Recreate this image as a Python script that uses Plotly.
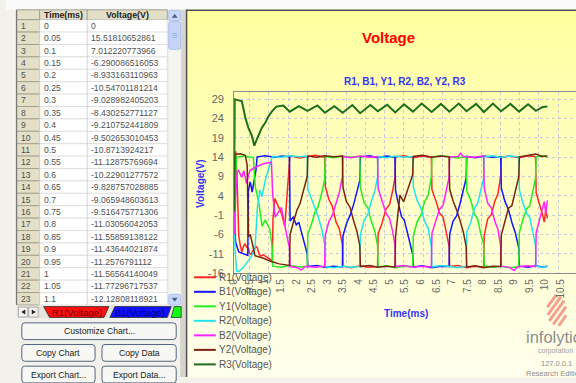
import plotly.graph_objects as go

W, H = 576, 383
FONT = "Liberation Sans, Arial, sans-serif"

# ---------------- data ----------------
table_time = [0, 0.05, 0.1, 0.15, 0.2, 0.25, 0.3, 0.35, 0.4, 0.45, 0.5, 0.55,
              0.6, 0.65, 0.7, 0.75, 0.8, 0.85, 0.9, 0.95, 1, 1.05, 1.1]
table_r1 = [0, 15.51810652861, 7.012220773966, -6.290086516053, -8.933163110963,
            -10.54701181214, -9.028982405203, -8.430252771127, -9.210752441809,
            -9.502653010453, -10.8713924217, -11.12875769694, -10.22901277572,
            -9.828757028885, -9.065948603613, -9.516475771306, -11.03056042053,
            -11.55859138122, -11.43644021874, -11.2576791112, -11.56564140049,
            -11.77296717537, -12.12808118921]

r1_tail_t = [1.15, 1.2, 1.23, 1.25, 1.31, 1.42, 1.52, 1.63, 1.70, 1.76, 1.79, 1.85, 2.1, 2.36, 2.6, 2.91,
             2.93, 3.05, 3.15, 3.28, 3.38, 3.48, 3.50, 3.75, 4.05, 4.3, 4.61, 4.63, 4.75, 4.88, 5.0, 5.10,
             5.17, 5.19, 5.45, 5.75, 6.05, 6.34, 6.36, 6.48, 6.6, 6.72, 6.82, 6.91, 6.93, 7.2, 7.47, 7.75,
             8.02, 8.04, 8.15, 8.27, 8.38, 8.48, 8.57, 8.59, 8.85, 9.16, 9.45, 9.69, 9.71, 9.82, 9.92, 9.97,
             10.02, 10.07]
r1_tail_v = [-12.3, -12.6, -12.8, -2.0, 3.3, 1.2, -0.5, -3.9, 4.0, 9.0, 14.0, 14.3, 13.8, 14.2, 14.5, 14.0,
             6.5, 3.0, 1.5, -2.8, -4.5, -8.5, -14.2, -14.6, -14.1, -14.5, -14.3, -5.8, -3.2, 0.5, 1.8, 5.5,
             8.6, 14.1, 14.4, 13.9, 14.3, 14.0, 5.6, 2.9, -0.4, -1.5, -5.7, -9.0, -14.3, -14.0, -14.6, -14.2,
             -14.4, -6.2, -2.0, -0.8, 2.6, 4.5, 9.2, 14.0, 14.3, 13.9, 14.4, 14.1, 4.8, 2.0, -1.0, -2.8,
             0.4, -1.8]

b1_t = [0, 0.05, 0.15, 0.3, 0.44, 0.46, 0.52, 0.58, 0.66, 0.70, 0.74, 1.0, 1.3, 1.55, 1.78, 1.80, 1.9, 2.0,
        2.08, 2.18, 2.28, 2.35, 2.37, 2.65, 2.92, 3.2, 3.48, 3.50, 3.62, 3.74, 3.85, 3.95, 4.04, 4.06, 4.35,
        4.62, 4.9, 5.17, 5.19, 5.28, 5.38, 5.47, 5.6, 5.74, 5.76, 6.05, 6.35, 6.65, 6.91, 6.93, 7.04, 7.15,
        7.26, 7.37, 7.46, 7.48, 7.75, 8.03, 8.3, 8.57, 8.59, 8.7, 8.82, 8.93, 9.04, 9.15, 9.17, 9.45, 9.7,
        9.9, 10.07]
b1_v = [0, -8.0, -10.5, -11.0, -11.4, 5.5, 7.6, 5.0, 9.2, 10.5, 14.1, 14.4, 14.0, 14.3, 14.1, -2.5, -1.5, -3.5,
        -2.8, -6.0, -8.5, -11.0, -14.3, -14.0, -14.5, -14.2, -14.4, -6.3, -3.0, -0.8, 2.0, 4.9, 8.0, 14.1, 14.4,
        13.9, 14.3, 14.0, 5.4, 2.0, -1.4, -2.2, -6.5, -11.1, -14.4, -14.1, -14.6, -14.2, -14.3, -5.9, -2.5, -1.2,
        1.9, 5.3, 8.6, 14.2, 13.9, 14.3, 14.0, 14.2, 6.0, 2.7, 0.4, -2.9, -5.6, -9.4, -14.2, -14.5, -14.1,
        -14.4, -14.2]

y1_t = [0, 0.04, 0.08, 0.3, 0.5, 0.62, 0.66, 0.69, 0.8, 0.9, 1.0, 1.15, 1.22, 1.24, 1.5, 1.79, 2.1, 2.35,
        2.37, 2.48, 2.6, 2.7, 2.82, 2.91, 2.93, 3.2, 3.49, 3.75, 4.04, 4.06, 4.18, 4.3, 4.41, 4.52, 4.61, 4.63,
        4.9, 5.18, 5.45, 5.74, 5.76, 5.88, 6.0, 6.12, 6.24, 6.34, 6.36, 6.62, 6.92, 7.2, 7.46, 7.48, 7.6, 7.72,
        7.83, 7.93, 8.02, 8.04, 8.3, 8.58, 8.88, 9.15, 9.17, 9.28, 9.4, 9.5, 9.6, 9.69, 9.71, 9.9, 10.07]
y1_v = [0, 9.0, 14.0, 14.3, 14.1, 13.9, 8.8, 6.0, 2.0, -3.9, -2.2, -4.7, -9.0, -14.2, -14.5, -14.0, -14.4, -14.3,
        -5.9, -3.5, -0.2, 1.2, 4.8, 8.2, 14.2, 13.9, 14.3, 14.0, 14.2, 6.1, 2.2, 0.9, -2.6, -5.0, -8.8, -14.4,
        -14.1, -14.6, -14.2, -14.3, -6.4, -2.8, -1.0, 2.4, 4.2, 9.0, 14.0, 14.4, 14.1, 13.8, 14.2, 5.2, 3.1, -0.6,
        -2.0, -5.9, -8.4, -14.1, -14.5, -14.2, -14.6, -14.3, -5.5, -2.2, 0.6, 1.4, 5.1, 8.7, 14.1, 14.4, 14.0]

r2_t = [0, 0.03, 0.08, 0.15, 0.3, 0.45, 0.56, 0.67, 0.70, 0.75, 0.83, 0.9, 1.0, 1.1, 1.18, 1.23, 1.5, 1.79,
        2.1, 2.35, 2.37, 2.48, 2.6, 2.71, 2.82, 2.91, 2.93, 3.2, 3.49, 3.75, 4.04, 4.06, 4.18, 4.3, 4.41, 4.52,
        4.61, 4.63, 4.9, 5.18, 5.45, 5.74, 5.76, 5.88, 6.0, 6.12, 6.24, 6.34, 6.36, 6.62, 6.92, 7.2, 7.46, 7.48,
        7.6, 7.72, 7.83, 7.93, 8.02, 8.04, 8.3, 8.58, 8.88, 9.15, 9.17, 9.28, 9.4, 9.5, 9.6, 9.69, 9.71, 9.9,
        10.07]
r2_v = [0, -10.0, -15.4, -15.6, -14.5, -13.0, -11.6, -9.8, -4.0, 1.0, 5.5, 3.8, 8.0, 11.0, 13.1, 14.2, 14.0, 14.4,
        14.1, 14.3, 5.8, 3.4, 0.4, -1.6, -4.7, -8.6, -14.3, -14.6, -14.2, -14.5, -14.3, -6.0, -2.3, -0.7, 2.6, 5.1,
        8.8, 14.2, 13.9, 14.3, 14.0, 14.2, 6.3, 2.9, 0.9, -2.5, -4.4, -9.1, -14.4, -14.0, -14.3, -14.6, -14.2, -5.3,
        -3.0, 0.7, 2.1, 5.8, 8.5, 14.1, 14.4, 14.0, 14.3, 14.1, 5.6, 2.3, -0.5, -1.5, -5.0, -8.8, -14.2, -14.5,
        -14.3]

b2_t = [0, 0.02, 0.05, 0.1, 0.14, 0.2, 0.25, 0.31, 0.36, 0.4, 0.46, 0.52, 0.68, 0.94, 1.2, 1.24, 1.32, 1.42,
        1.52, 1.6, 1.7, 1.78, 1.80, 2.05, 2.15, 2.3, 2.6, 2.91, 2.93, 3.05, 3.16, 3.28, 3.38, 3.48, 3.50, 3.75,
        4.05, 4.35, 4.61, 4.63, 4.75, 4.88, 5.0, 5.1, 5.17, 5.19, 5.45, 5.75, 6.05, 6.34, 6.36, 6.48, 6.6, 6.72,
        6.82, 6.91, 6.93, 7.2, 7.28, 7.36, 7.7, 8.02, 8.04, 8.15, 8.27, 8.38, 8.48, 8.57, 8.59, 8.85, 9.0, 9.1,
        9.4, 9.69, 9.71, 9.82, 9.92, 9.97, 10.02, 10.07]
b2_v = [0, -6.0, 4.0, 10.2, 10.6, 9.4, 8.8, 10.5, 9.0, 7.2, 9.5, 10.6, 11.4, 12.3, 12.7, 4.5, -1.5, -0.3,
        1.0, -2.5, -6.0, -9.5, -14.3, -14.6, -15.2, -14.2, -14.5, -14.2, -6.2, -2.6, -1.0, 2.4, 4.8, 8.9, 14.2,
        13.9, 14.3, 14.0, 14.2, 5.9, 3.1, -0.4, -1.9, -5.3, -8.7, -14.3, -14.0, -14.5, -14.2, -14.4, -5.7, -2.9,
        0.5, 1.6, 5.4, 8.8, 14.1, 14.2, 15.0, 14.2, 14.0, 14.3, 6.1, 2.1, 0.9, -2.6, -4.6, -9.0, -14.2, -14.5,
        -15.3, -14.4, -14.1, -14.3, -5.5, -2.0, 1.0, 2.5, -0.6, 2.8]

y2_t = [0, 0.02, 0.2, 0.36, 0.42, 0.46, 0.52, 0.56, 0.62, 0.67, 0.9, 1.2, 1.45, 1.78, 1.80, 1.92, 2.02, 2.12,
        2.24, 2.35, 2.37, 2.65, 2.92, 3.2, 3.48, 3.50, 3.61, 3.73, 3.84, 3.95, 4.04, 4.06, 4.35, 4.62, 4.9, 5.17,
        5.19, 5.26, 5.33, 5.45, 5.58, 5.74, 5.76, 6.05, 6.35, 6.65, 6.91, 6.93, 7.05, 7.16, 7.27, 7.37, 7.46,
        7.48, 7.75, 8.03, 8.3, 8.57, 8.59, 8.7, 8.82, 8.93, 9.05, 9.15, 9.17, 9.45, 9.7, 9.9, 10.07]
y2_v = [0, 14.8, 14.9, 14.5, 12.0, -6.5, -6.0, -7.2, -9.5, -11.5, -12.0, -13.0, -13.6, -14.0, -6.0, -2.4, 0.3,
        2.0, 5.4, 9.0, 14.3, 14.0, 14.4, 14.1, 14.3, 6.2, 2.5, 1.0, -2.4, -5.2, -8.9, -14.3, -14.0, -14.5, -14.2,
        -14.4, -6.5, -1.0, 4.2, 2.5, 5.8, 9.5, 14.2, 14.5, 14.0, 14.3, 14.1, 5.7, 2.4, 0.2, -2.6, -5.4, -9.1,
        -14.4, -14.1, -14.6, -14.2, -14.3, -6.1, -2.6, 0.8, 1.5, 5.8, 8.9, 14.1, 14.4, 14.8, 14.2, 14.4]

r3_t = [0, 0.02, 0.06, 0.25, 0.36, 0.46, 0.57, 0.65, 0.73, 0.89, 1.0, 1.12, 1.23, 1.36, 1.58, 1.79, 2.08, 2.36,
        2.68, 2.92, 3.22, 3.49, 3.80, 4.05, 4.38, 4.62, 4.92, 5.18, 5.46, 5.75, 6.03, 6.35, 6.65, 6.92, 7.22,
        7.47, 7.78, 8.03, 8.32, 8.58, 8.88, 9.16, 9.45, 9.70, 9.92, 10.07]
r3_v = [0, 29.0, 28.9, 28.5, 24.2, 21.6, 19.6, 17.0, 18.6, 21.6, 22.9, 24.8, 26.0, 27.1, 27.4, 25.8, 27.2, 26.0,
        27.4, 25.5, 27.2, 25.5, 27.5, 25.4, 27.5, 25.9, 27.6, 25.6, 27.7, 25.8, 27.9, 25.7, 27.8, 25.8, 27.9,
        25.9, 27.8, 25.7, 27.9, 25.9, 27.8, 25.8, 27.7, 26.0, 27.0, 27.1]

series_names = ["R1(Voltage)", "B1(Voltage)", "Y1(Voltage)", "R2(Voltage)",
                "B2(Voltage)", "Y2(Voltage)", "R3(Voltage)"]
series_colors = ["#FF2626", "#1414FF", "#22EE22", "#22E4EE", "#FF22FF", "#7A2410", "#1C6E1C"]
x_ticks = [0, 0.5, 1, 1.5, 2, 2.5, 3, 3.5, 4, 4.5, 5, 5.5, 6, 6.5, 7, 7.5, 8, 8.5, 9, 9.5, 10, 10.5]
y_ticks = [-16, -11, -6, -1, 4, 9, 14, 19, 24, 29]


def fmt(v):
    s = repr(float(v))
    return s[:-2] if s.endswith(".0") else s


def px(x):
    return x / W


def py(y):
    return 1 - y / H


series = [(table_time + r1_tail_t, table_r1 + r1_tail_v), (b1_t, b1_v), (y1_t, y1_v),
          (r2_t, r2_v), (b2_t, b2_v), (y2_t, y2_v), (r3_t, r3_v)]

fig = go.Figure()
for name, color, (t, v) in zip(series_names, series_colors, series):
    fig.add_trace(go.Scatter(x=t, y=v, mode="lines", name=name, showlegend=False,
                             line=dict(color=color, width=2.0 if name.startswith("R3") else 1.5)))

shapes = []
annotations = []


def rect(x0, y0, x1, y1, fill, line=None, lw=0, layer="below"):
    shapes.append(dict(type="rect", xref="paper", yref="paper", x0=px(x0), x1=px(x1),
                       y0=py(y1), y1=py(y0), fillcolor=fill,
                       line=dict(color=line or fill, width=lw), layer=layer))


def seg(x0, y0, x1, y1, color, lw=1, layer="below"):
    shapes.append(dict(type="line", xref="paper", yref="paper", x0=px(x0), x1=px(x1),
                       y0=py(y0), y1=py(y1), line=dict(color=color, width=lw), layer=layer))


def poly(points, fill, line=None, lw=0, layer="below"):
    d = "M " + " L ".join("%f,%f" % (px(a), py(b)) for a, b in points) + " Z"
    shapes.append(dict(type="path", xref="paper", yref="paper", path=d, fillcolor=fill,
                       line=dict(color=line or fill, width=lw), layer=layer))


def rrect(x0, y0, x1, y1, fill, line, r=3, lw=1):
    P = lambda a, b: "%f,%f" % (px(a), py(b))
    d = ("M " + P(x0 + r, y0) + " L " + P(x1 - r, y0) + " Q " + P(x1, y0) + " " + P(x1, y0 + r) +
         " L " + P(x1, y1 - r) + " Q " + P(x1, y1) + " " + P(x1 - r, y1) +
         " L " + P(x0 + r, y1) + " Q " + P(x0, y1) + " " + P(x0, y1 - r) +
         " L " + P(x0, y0 + r) + " Q " + P(x0, y0) + " " + P(x0 + r, y0) + " Z")
    shapes.append(dict(type="path", xref="paper", yref="paper", path=d, fillcolor=fill,
                       line=dict(color=line, width=lw), layer="below"))


def text(x, y, s, size=10, color="#333333", bold=False, xanchor="center", angle=0, family=FONT):
    annotations.append(dict(xref="paper", yref="paper", x=px(x), y=py(y),
                            text=("<b>%s</b>" % s) if bold else s, showarrow=False,
                            xanchor=xanchor, yanchor="middle", textangle=angle,
                            font=dict(size=size, color=color, family=family)))


# ---------- backgrounds ----------
rect(0, 0, 576, 10, "#FAFAFA")
rect(176, 10, 183, 383, "#D6D4CC")
n = 40
top, bot = (255, 255, 158), (255, 255, 238)
for i in range(n):
    y0 = 10 + (383 - 10) * i / n
    y1 = 10 + (383 - 10) * (i + 1) / n
    f = (i + 0.5) / n
    col = "rgb(%d,%d,%d)" % tuple(round(a + (b - a) * f) for a, b in zip(top, bot))
    rect(183, y0, 576, y1 + 0.6, col)
seg(182.5, 10, 182.5, 383, "#505050", 1.5)
seg(182, 10.5, 576, 10.5, "#505050", 1.5)

# ---------- data table ----------
c0, c1, c2, c3 = 11, 34, 82, 163
hy0, hy1 = 10, 20
rh = 12.6
rect(c0, hy0, c3, hy1, "#E4E0C8", "#8A8A80", 0.8)
nrows = len(table_time)
for i in range(nrows):
    ya = hy1 + rh * i
    yb = ya + rh
    rect(c0, ya, c1, yb, "#E4E0C8", "#9A9888", 0.8)
    rect(c1, ya, c3, yb, "#FFFFFF", "#D4D4D4", 0.6)
    yc = (ya + yb) / 2
    text(c0 + 2, yc, str(i + 1), size=8.6, color="#505050", xanchor="left")
    text(c1 + 2, yc, fmt(table_time[i]), size=8.6, color="#505050", xanchor="left")
    text(c2 + 2, yc, fmt(table_r1[i]), size=8.6, color="#505050", xanchor="left")
seg(c2, hy1, c2, hy1 + rh * nrows, "#C8C8C8", 0.8)
seg(c1, hy0, c1, hy1, "#8A8A80", 0.8)
seg(c2, hy0, c2, hy1, "#8A8A80", 0.8)
seg(10.5, hy0, 10.5, hy1 + rh * nrows, "#707070", 1)
text((c1 + c2) / 2, 15, "Time(ms)", size=8.8, color="#222222", bold=True)
text((c2 + c3) / 2, 15, "Voltage(V)", size=8.8, color="#222222", bold=True)

# scrollbar
rect(164, 10, 177, 311, "#F4F4F0", "#E2E2E2", 0.5)
rrect(164.5, 10.5, 176.5, 21, "#C9D8FA", "#AFC3EE", 2)
poly([(167.5, 18), (170.5, 14), (173.5, 18)], "#4D6185")
rrect(164.5, 22, 176.5, 50, "#C6D5F7", "#A9BFEE", 2)
for gy in (34, 36, 38):
    seg(168, gy, 173, gy, "#8FA8DC", 0.8)
rrect(164.5, 299, 176.5, 310, "#C9D8FA", "#AFC3EE", 2)
poly([(167.5, 302.5), (173.5, 302.5), (170.5, 306.5)], "#4D6185")

# sheet tabs
rect(11, 311, 177, 323, "#E6E4DC")
rect(12.5, 312, 22, 322, "#F4F4F0", "#9A9A9A", 0.8)
rect(23, 312, 32.5, 322, "#F4F4F0", "#9A9A9A", 0.8)
poly([(19.5, 314.5), (19.5, 319.5), (15.5, 317)], "#202020")
poly([(26, 314.5), (26, 319.5), (30, 317)], "#202020")
poly([(38, 311.5), (104, 311.5), (99, 322.5), (44, 322.5)], "#FF1010", "#303030", 0.8)
poly([(110, 311.5), (167, 311.5), (163, 322.5), (105, 322.5)], "#1010FF", "#303030", 0.8)
poly([(170, 311.5), (177, 311.5), (177, 322.5), (167, 322.5)], "#10FF10", "#303030", 0.8)
text(71.5, 317, "R1(Voltage)", size=9.5, color="#6A0000")
text(135.5, 317, "B1(Voltage)", size=9.5, color="#00007A")

# buttons
btn_fill, btn_line = "#F7F7F3", "#55657F"
rrect(16, 328, 172, 345, btn_fill, btn_line)
rrect(16, 350, 90, 367, btn_fill, btn_line)
rrect(97, 350, 172, 367, btn_fill, btn_line)
rrect(16, 372, 90, 389, btn_fill, btn_line)
rrect(97, 372, 172, 389, btn_fill, btn_line)
text(94, 336.5, "Customize Chart...", size=8.6, color="#222222")
text(53, 358.5, "Copy Chart", size=8.6, color="#222222")
text(134.5, 358.5, "Copy Data", size=8.6, color="#222222")
text(53, 380.5, "Export Chart...", size=8.6, color="#222222")
text(134.5, 380.5, "Export Data...", size=8.6, color="#222222")

# ---------- chart texts ----------
text(386.5, 38, "Voltage", size=15, color="#FF0000", bold=True)
text(403.5, 82.5, "R1, B1, Y1, R2, B2, Y2, R3", size=10, color="#3535F5", bold=True)
text(196, 186, "Voltage(V)", size=10, color="#3535F5", bold=True, angle=-90)
text(404, 318, "Time(ms)", size=10, color="#3535F5", bold=True)

# custom legend
for i, (name, color) in enumerate(zip(series_names, series_colors)):
    yy = 281.7 + 14.75 * i
    seg(190, yy, 212, yy, color, 2, layer="above")
    text(213, yy, name, size=10, color="#555555", xanchor="left")

# logo
stripe = "#F4A08E"
for (a, b, c, d) in [(547, 312, 556, 299.5), (547.5, 320, 561, 301), (549, 326, 564, 305.5),
                     (553, 329.5, 566, 311.5), (558.5, 331, 566, 320.5)]:
    seg(a, b, c, d, stripe, 3)
text(523, 342, "infolytica", size=16.5, color="#8E8E8E", xanchor="left")
text(555, 357, "corporation", size=7, color="#9E9E9E")
text(556, 369, "127.0.0.1", size=7.5, color="#8E8E8E")
text(523, 379.5, "Research Edition", size=7.5, color="#8E8E8E", xanchor="left")

grid_col = "#CACAD4"
fig.update_layout(
    width=W, height=H, margin=dict(l=0, r=0, t=0, b=0),
    paper_bgcolor="#F2F1EC", plot_bgcolor="rgba(0,0,0,0)", showlegend=False,
    shapes=shapes, annotations=annotations,
    xaxis=dict(domain=[px(230.5), 1], range=[0, 10.99], tickmode="array", tickvals=x_ticks,
               ticktext=[fmt(v) for v in x_ticks], tickangle=-90,
               tickfont=dict(size=10, color="#6A6A6A", family=FONT),
               showgrid=False, zeroline=False, showline=True, linecolor="#8C8C8C", mirror=True,
               ticks="", ticklabelstandoff=1,
               minor=dict(tick0=0.5, dtick=0.62, showgrid=True, gridcolor=grid_col, griddash="dot")),
    yaxis=dict(domain=[py(277.5), py(93)], range=[-16, 31], tickmode="array", tickvals=y_ticks,
               ticktext=[str(v) for v in y_ticks],
               tickfont=dict(size=11, color="#666666", family=FONT),
               showgrid=True, gridcolor=grid_col, griddash="dot", zeroline=False,
               showline=True, linecolor="#8C8C8C", ticks="", ticklabelstandoff=7),
)

fig.write_html("out.html")
